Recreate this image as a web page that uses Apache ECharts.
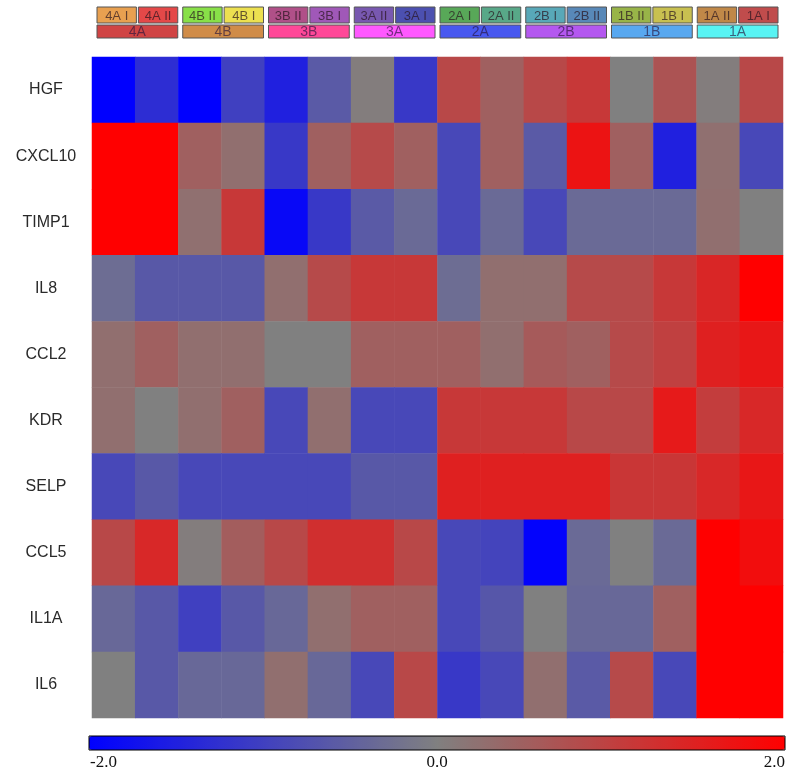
<!DOCTYPE html>
<html>
<head>
<meta charset="utf-8">
<script src="https://cdn.jsdelivr.net/npm/echarts@6/dist/echarts.min.js"></script>
<style>
html,body{margin:0;padding:0;background:#fff;}
#chart{width:787px;height:773px;}
</style>
</head>
<body>
<div id="chart"></div>
<script>
// ---- data ----
const genes = ['HGF','CXCL10','TIMP1','IL8','CCL2','KDR','SELP','CCL5','IL1A','IL6'];
const samples = ['4A I','4A II','4B II','4B I','3B II','3B I','3A II','3A I','2A I','2A II','2B I','2B II','1B II','1B I','1A II','1A I'];
const groups = ['4A','4B','3B','3A','2A','2B','1B','1A'];
const scaleTicks = ['-2.0','0.0','2.0'];

const HGF    = [-2.0,-1.3,-2.0,-1.0,-1.5,-0.6, 0.05,-1.12, 0.88, 0.5, 0.88, 1.12, 0.0, 0.7, 0.05, 0.88];
const CXCL10 = [ 2.0, 2.0, 0.5, 0.27,-1.12, 0.5, 0.85, 0.5,-0.88, 0.5,-0.6, 1.7, 0.5,-1.5, 0.25,-0.88];
const TIMP1  = [ 2.0, 2.0, 0.25, 1.12,-1.88,-1.12,-0.6,-0.35,-0.88,-0.35,-0.88,-0.35,-0.35,-0.35, 0.27, 0.0];
const IL8    = [-0.3,-0.62,-0.62,-0.62, 0.27, 0.85, 1.12, 1.12,-0.3, 0.27, 0.27, 0.85, 0.85, 1.12, 1.4, 2.0];
const CCL2   = [ 0.27, 0.5, 0.27, 0.27, 0.0, 0.0, 0.5, 0.5, 0.5, 0.27, 0.6, 0.5, 0.85, 1.0, 1.5, 1.64];
const KDR    = [ 0.27, 0.0, 0.27, 0.5,-0.88, 0.27,-0.88,-0.88, 1.12, 1.12, 1.12, 0.88, 0.88, 1.6, 1.05, 1.38];
const SELP   = [-0.88,-0.62,-0.88,-0.88,-0.88,-0.88,-0.62,-0.62, 1.5, 1.5, 1.5, 1.5, 1.15, 1.15, 1.38, 1.64];
const CCL5   = [ 0.88, 1.38, 0.05, 0.55, 0.88, 1.26, 1.26, 0.88,-0.88,-0.94,-1.95,-0.35, 0.0,-0.35, 2.0, 1.8];
const IL1A   = [-0.38,-0.62,-1.0,-0.62,-0.38, 0.27, 0.5, 0.5,-0.88,-0.65, 0.0,-0.38,-0.38, 0.5, 2.0, 2.0];
const IL6    = [ 0.0,-0.62,-0.38,-0.38, 0.27,-0.38,-0.88, 0.88,-1.12,-0.88, 0.27,-0.6, 0.85,-0.88, 2.0, 2.0];
const rows = [HGF, CXCL10, TIMP1, IL8, CCL2, KDR, SELP, CCL5, IL1A, IL6];

// ---- styles ----
const sampleColors = ['#e8a050','#e44848','#88e048','#ece050','#b05088','#a058b8','#7858b0','#4c50b0',
                      '#58a858','#58a888','#58a8b8','#5888b8','#98b448','#c8c050','#c08848','#c04c4c'];
const groupColors  = ['#d04444','#d08c48','#ff4898','#ff58ff','#4858f0','#b458f0','#58a8f0','#58f4f4'];

const heatData = [];
rows.forEach((r, yi) => r.forEach((v, xi) => heatData.push([xi, yi, v])));

const chart = echarts.init(document.getElementById('chart'), null, {renderer: 'canvas'});

const headerSeries = {
  type: 'custom',
  xAxisIndex: 1, yAxisIndex: 1,
  data: groups.map((g, i) => [i]),
  silent: true,
  renderItem: function (params, api) {
    const gi = api.value(0);
    const cx = api.coord([gi, 0])[0];
    const band = api.size([1, 0])[0];
    const cs = params.coordSys;
    const gl = cx - band / 2;
    const gw = band - 5;
    const sw = (gw - 2) / 2;
    const topY = cs.y, topH = 16, botY = cs.y + 18, botH = 13;
    const children = [];
    for (let k = 0; k < 2; k++) {
      const si = gi * 2 + k;
      const sx = gl + k * (sw + 2);
      children.push({
        type: 'rect',
        shape: {x: sx, y: topY, width: sw, height: topH},
        style: {fill: sampleColors[si], stroke: '#555', lineWidth: 1}
      });
      children.push({
        type: 'text',
        style: {x: sx + sw / 2, y: topY + topH / 2 + 1, text: samples[si], align: 'center', verticalAlign: 'middle',
                fill: 'rgba(40,20,30,0.7)', font: '13px "Liberation Sans", Arial, sans-serif'}
      });
    }
    children.push({
      type: 'rect',
      shape: {x: gl, y: botY, width: gw, height: botH},
      style: {fill: groupColors[gi], stroke: '#555', lineWidth: 1}
    });
    children.push({
      type: 'text',
      style: {x: gl + gw / 2, y: botY + botH / 2 + 1, text: groups[gi], align: 'center', verticalAlign: 'middle',
              fill: 'rgba(40,20,60,0.65)', font: '14px "Liberation Sans", Arial, sans-serif'}
    });
    return {type: 'group', children: children};
  }
};

const barLeft = 89, barTop = 736, barLen = 696, barThick = 14;

chart.setOption({
  backgroundColor: '#fff',
  animation: false,
  grid: [
    {left: 92, right: 4, top: 57, bottom: 55},
    {left: 97, right: 4, top: 7, height: 31}
  ],
  xAxis: [
    {type: 'category', data: samples, gridIndex: 0, show: false},
    {type: 'category', data: groups, gridIndex: 1, show: false}
  ],
  yAxis: [
    {type: 'category', data: genes, gridIndex: 0, inverse: true,
     axisLine: {show: false}, axisTick: {show: false}, splitLine: {show: false},
     axisLabel: {align: 'center', margin: 46, color: '#2a2a2a', fontSize: 16,
                 fontFamily: '"Liberation Sans", Arial, sans-serif'}},
    {type: 'value', gridIndex: 1, show: false, min: 0, max: 1}
  ],
  visualMap: {
    type: 'continuous',
    min: -2, max: 2,
    orient: 'horizontal',
    left: barLeft, top: barTop,
    itemWidth: barThick, itemHeight: barLen,
    padding: 0,
    calculable: false,
    hoverLink: false,
    seriesIndex: 0,
    inRange: {color: ['#0000ff', '#808080', '#ff0000']}
  },
  series: [
    {
      type: 'heatmap',
      xAxisIndex: 0, yAxisIndex: 0,
      data: heatData,
      itemStyle: {borderWidth: 0},
      emphasis: {disabled: true},
      progressive: 0
    },
    headerSeries
  ],
  graphic: [
    {type: 'rect', shape: {x: barLeft, y: barTop, width: barLen, height: barThick},
     style: {fill: 'none', stroke: '#000', lineWidth: 1}, silent: true, z: 100},
    {type: 'text', x: barLeft + 1, y: barTop + barThick + 4,
     style: {text: scaleTicks[0], align: 'left', font: '17px "Liberation Serif", "Times New Roman", serif', fill: '#111'}},
    {type: 'text', x: barLeft + barLen / 2, y: barTop + barThick + 4,
     style: {text: scaleTicks[1], align: 'center', font: '17px "Liberation Serif", "Times New Roman", serif', fill: '#111'}},
    {type: 'text', x: barLeft + barLen, y: barTop + barThick + 4,
     style: {text: scaleTicks[2], align: 'right', font: '17px "Liberation Serif", "Times New Roman", serif', fill: '#111'}}
  ]
});
</script>
</body>
</html>
